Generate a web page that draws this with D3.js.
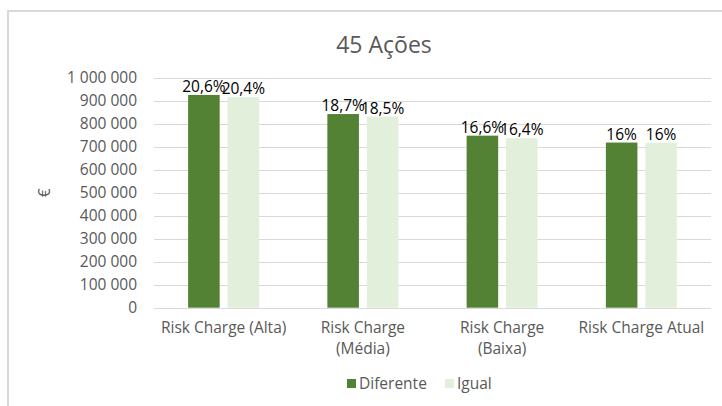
<!DOCTYPE html>
<html>
<head>
<meta charset="utf-8">
<script src="https://cdn.jsdelivr.net/npm/d3@7"></script>
<style>
  body { margin: 0; background: #fff; }
  svg { display: block; font-family: "Open Sans", "Noto Sans", sans-serif; }
</style>
</head>
<body>
<div id="chart"></div>
<script>
// Data
const categories = ["Risk Charge (Alta)", "Risk Charge (Média)", "Risk Charge (Baixa)", "Risk Charge Atual"];
const categoryLines = [["Risk Charge (Alta)"], ["Risk Charge", "(Média)"], ["Risk Charge", "(Baixa)"], ["Risk Charge Atual"]];
const seriesNames = ["Diferente", "Igual"];
const diferente = [925000, 842000, 748000, 718000];
const igual = [915000, 831000, 737000, 717000];
const diferenteLabels = ["20,6%", "18,7%", "16,6%", "16%"];
const igualLabels = ["20,4%", "18,5%", "16,4%", "16%"];
const yTicks = [0, 100000, 200000, 300000, 400000, 500000, 600000, 700000, 800000, 900000, 1000000];

// 1. Setup
const width = 722;
const height = 406;
const margin = { top: 78, right: 11, bottom: 98, left: 154 };
const colors = { Diferente: "#548235", Igual: "#e2efda" };

const svg = d3.select("#chart").append("svg")
    .attr("width", width).attr("height", height);

// chart frame (cut off on the right in the reference)
svg.append("rect")
    .attr("x", 8).attr("y", 11)
    .attr("width", 730).attr("height", 420)
    .attr("fill", "#fff")
    .attr("stroke", "#d9d9d9").attr("stroke-width", 2);

// 2. Scales
const x0 = d3.scaleBand().domain(categories)
    .range([margin.left, width - margin.right])
    .paddingInner(0.49).paddingOuter(0.245);
const x1 = d3.scaleBand().domain(seriesNames)
    .range([0, x0.bandwidth()]).paddingInner(0.2);
const y = d3.scaleLinear().domain([0, 1000000])
    .range([height - margin.bottom - 0.3, margin.top - 0.3]);

// 3. Gridlines
svg.append("g").selectAll("line").data(yTicks).join("line")
    .attr("x1", margin.left).attr("x2", width - margin.right)
    .attr("y1", d => Math.round(y(d)) + 0.5).attr("y2", d => Math.round(y(d)) + 0.5)
    .attr("stroke", "#d9d9d9").attr("stroke-width", 1);

// 4. Y axis labels
const fmt = v => d3.format(",")(v).replace(/,/g, " ");
const yAxis = svg.append("g")
    .attr("transform", `translate(${margin.left - 17},0)`)
    .call(d3.axisLeft(y).tickValues(yTicks).tickFormat(fmt).tickSize(0).tickPadding(0));
yAxis.select(".domain").remove();
yAxis.selectAll("text")
    .attr("fill", "#595959").attr("font-size", "15.5px")
    .attr("font-family", "'Open Sans', sans-serif");

svg.append("text")
    .attr("transform", `translate(45,${y(500000)}) rotate(-90)`)
    .attr("text-anchor", "middle").attr("dy", "0.35em")
    .attr("fill", "#595959").attr("font-size", "15.5px")
    .text("€");

// 5. Bars
const rows = categories.map((c, i) => ({
    cat: c,
    vals: [
        { key: "Diferente", value: diferente[i], label: diferenteLabels[i] },
        { key: "Igual", value: igual[i], label: igualLabels[i] }
    ]
}));

const groups = svg.append("g").selectAll("g").data(rows).join("g")
    .attr("transform", d => `translate(${x0(d.cat)},0)`);

groups.selectAll("rect").data(d => d.vals).join("rect")
    .attr("x", d => x1(d.key))
    .attr("width", x1.bandwidth())
    .attr("y", d => y(d.value))
    .attr("height", d => y(0) - y(d.value))
    .attr("fill", d => colors[d.key]);

groups.selectAll("text").data(d => d.vals).join("text")
    .attr("x", d => x1(d.key) + x1.bandwidth() / 2)
    .attr("y", d => y(d.value) - 3)
    .attr("text-anchor", "middle")
    .attr("fill", "#000").attr("font-size", "15.5px")
    .attr("font-family", "'Open Sans', sans-serif")
    .text(d => d.label);

// 6. X axis labels (one text per line)
const xLabel = svg.append("g");
categories.forEach((c, i) => {
    categoryLines[i].forEach((line, j) => {
        xLabel.append("text")
            .attr("x", x0(c) + x0.bandwidth() / 2)
            .attr("y", 333 + j * 21)
            .attr("text-anchor", "middle")
            .attr("fill", "#595959").attr("font-size", "15.5px")
            .text(line);
    });
});

// 7. Title
svg.append("text")
    .attr("x", 384).attr("y", 53)
    .attr("text-anchor", "middle")
    .attr("fill", "#595959").attr("font-size", "23px")
    .text("45 Ações");

// 8. Legend
const legendItems = [
    { key: "Diferente", x: 347 },
    { key: "Igual", x: 445 }
];
const legend = svg.append("g");
legendItems.forEach(it => {
    legend.append("rect")
        .attr("x", it.x).attr("y", 379)
        .attr("width", 9).attr("height", 9)
        .attr("fill", colors[it.key]);
    legend.append("text")
        .attr("x", it.x + 12).attr("y", 389)
        .attr("fill", "#595959").attr("font-size", "15.5px")
        .text(it.key);
});
</script>
</body>
</html>
